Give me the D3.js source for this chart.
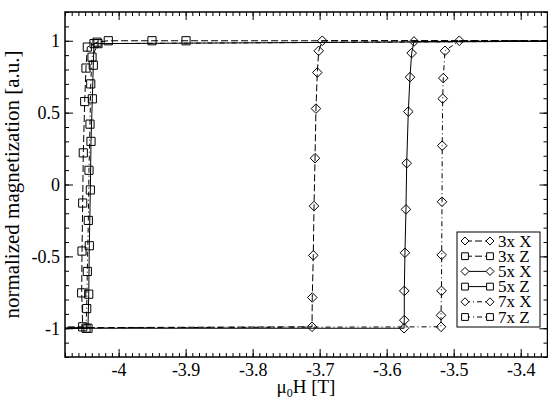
<!DOCTYPE html>
<html><head><meta charset="utf-8">
<script src="https://cdn.jsdelivr.net/npm/d3@7"></script>
<style>body{margin:0;background:#fff}svg{display:block}text{font-family:"Liberation Serif","Times New Roman",serif}</style>
</head><body><svg id="c" width="548" height="398"></svg>
<script>
// ---- data ----
const seriesNames = ["3x X","3x Z","5x X","5x Z","7x X","7x Z"];
const field3X = [-4.3,-3.7114,-3.7110,-3.7095,-3.7084,-3.7069,-3.7055,-3.7035,-3.7014,-3.6961,-3.2];
const mag3X   = [-1,-0.99,-0.786,-0.493,-0.15,0.183,0.528,0.779,0.93,1.0,1];
const field3Z = [-4.3,-4.0536,-4.0551,-4.0546,-4.0536,-4.0527,-4.0506,-4.0487,-4.0467,-4.0322,-4.0154,-3.9502,-3.8994,-3.2];
const mag3Z   = [-1,-0.99,-0.754,-0.463,-0.129,0.22,0.577,0.81,0.956,0.99,1,1,1,1];
const field5X = [-4.3,-3.5741,-3.5737,-3.5737,-3.5727,-3.5712,-3.5701,-3.5677,-3.5652,-3.5627,-3.5592,-3.2];
const mag5X   = [-1,-1,-0.944,-0.74,-0.475,-0.173,0.148,0.507,0.747,0.914,0.995,1];
const field5Z = [-4.3,-4.0457,-4.0446,-4.0437,-4.0422,-4.0412,-4.0392,-4.0378,-4.0367,-3.2];
const mag5Z   = [-1,-1,-0.763,-0.426,-0.038,0.30,0.596,0.83,0.98,1];
const field7X = [-4.3,-3.5189,-3.5189,-3.5182,-3.5179,-3.5174,-3.5171,-3.5164,-3.5155,-3.5130,-3.4916,-3.2];
const mag7X   = [-1,-0.99,-0.91,-0.74,-0.49,-0.12,0.27,0.597,0.74,0.93,1,1];
const field7Z = [-4.3,-4.0487,-4.0476,-4.0467,-4.0452,-4.0442,-4.0427,-4.0416,-4.0397,-4.0308,-3.2];
const mag7Z   = [-1,-1,-0.863,-0.605,-0.25,0.099,0.42,0.70,0.886,0.98,1];
const xTickVals = [-4,-3.9,-3.8,-3.7,-3.6,-3.5,-3.4];
const xTickLabels = ["-4","-3.9","-3.8","-3.7","-3.6","-3.5","-3.4"];
const yTickVals = [-1,-0.5,0,0.5,1];
const yTickLabels = ["-1","-0.5","0","0.5","1"];
const xLabel = "μ0H [T]";
const yLabel = "normalized magnetization [a.u.]";

// ---- build ----
const fields = [field3X, field3Z, field5X, field5Z, field7X, field7Z];
const mags = [mag3X, mag3Z, mag5X, mag5Z, mag7X, mag7Z];
const dashStyles = {"3x":"7,3","5x":null,"7x":"5,3,1,3"};
const L=65,R=547.5,T=12,B=357;
const x = d3.scaleLinear().domain([-4.08,-3.36]).range([L,R]);
const y = d3.scaleLinear().domain([-1.2,1.2]).range([B,T]);
const svg = d3.select("#c");
svg.append("rect").attr("width",548).attr("height",398).attr("fill","#fff");
svg.append("defs").append("clipPath").attr("id","clip").append("rect")
  .attr("x",L).attr("y",T).attr("width",R-L).attr("height",B-T);

function markerPath(type, s){
  if(type==="X") return `M${-s},0L0,${-s}L${s},0L0,${s}Z`;
  return `M${-s*0.85},${-s*0.85}h${s*1.7}v${s*1.7}h${-s*1.7}Z`;
}
const plot = svg.append("g").attr("clip-path","url(#clip)");
const line = d3.line().x(d=>x(d[0])).y(d=>y(d[1]));
seriesNames.forEach((name,i)=>{
  const pts = fields[i].map((f,j)=>[f,mags[i][j]]);
  const size = name.slice(0,2), type = name.slice(-1);
  plot.append("path").attr("d",line(pts)).attr("fill","none").attr("stroke","#000")
    .attr("stroke-width",1).attr("stroke-dasharray",dashStyles[size]);
  plot.selectAll(null).data(pts.filter(p=>p[0]>-4.08&&p[0]<-3.36)).enter().append("path")
    .attr("d",markerPath(type,4.8))
    .attr("transform",d=>`translate(${x(d[0])},${y(d[1])})`)
    .attr("fill","none").attr("stroke","#000").attr("stroke-width",1);
});

// axes
const fs = "18px";
const xMinor = d3.range(-408,-335).map(d=>d/100);
const yMinor = d3.range(-12,13).map(d=>d/10);
function style(g){ g.select(".domain").remove(); g.selectAll("line").attr("stroke","#000").attr("stroke-width",1);
  g.selectAll("text").attr("fill","#000").style("font-size",fs).style("font-family","'Liberation Serif',serif"); }
svg.append("g").attr("transform",`translate(0,${B})`).call(d3.axisBottom(x).tickValues(xMinor).tickSize(-4).tickFormat("")).call(style);
svg.append("g").attr("transform",`translate(0,${T})`).call(d3.axisTop(x).tickValues(xMinor).tickSize(-4).tickFormat("")).call(style);
svg.append("g").attr("transform",`translate(${L},0)`).call(d3.axisLeft(y).tickValues(yMinor).tickSize(-4).tickFormat("")).call(style);
svg.append("g").attr("transform",`translate(${R},0)`).call(d3.axisRight(y).tickValues(yMinor).tickSize(-4).tickFormat("")).call(style);
svg.append("g").attr("transform",`translate(0,${B})`).call(d3.axisBottom(x).tickValues(xTickVals).tickSize(-8).tickPadding(6).tickFormat((d,i)=>xTickLabels[i])).call(style);
svg.append("g").attr("transform",`translate(0,${T})`).call(d3.axisTop(x).tickValues(xTickVals).tickSize(-8).tickFormat("")).call(style);
svg.append("g").attr("transform",`translate(${L},0)`).call(d3.axisLeft(y).tickValues(yTickVals).tickSize(-8).tickPadding(5).tickFormat((d,i)=>yTickLabels[i])).call(style);
svg.append("g").attr("transform",`translate(${R},0)`).call(d3.axisRight(y).tickValues(yTickVals).tickSize(-8).tickFormat("")).call(style);
svg.append("rect").attr("x",L).attr("y",T).attr("width",R-L).attr("height",B-T)
  .attr("fill","none").attr("stroke","#000").attr("stroke-width",1.5);

// axis labels
const xl = svg.append("text").attr("x",306).attr("y",393).attr("text-anchor","middle").style("font-size","19px");
xl.append("tspan").text(xLabel.slice(0,1));
xl.append("tspan").attr("dy",4).style("font-size","12px").text(xLabel.slice(1,2));
xl.append("tspan").attr("dy",-4).text(xLabel.slice(2));
svg.append("text").attr("transform","rotate(-90)").attr("x",-(T+B)/2).attr("y",19)
  .attr("text-anchor","middle").style("font-size","21px").text(yLabel);

// legend
const lg = svg.append("g");
const rowH = 15.2, lgTop = 232;
lg.append("rect").attr("x",457).attr("y",lgTop).attr("width",83).attr("height",95)
  .attr("fill","#fff").attr("stroke","#000").attr("stroke-width",1);
seriesNames.forEach((name,i)=>{
  const cy = lgTop+9+i*rowH;
  const size = name.slice(0,2), type = name.slice(-1);
  lg.append("line").attr("x1",465).attr("x2",490).attr("y1",cy).attr("y2",cy)
    .attr("stroke","#000").attr("stroke-width",1).attr("stroke-dasharray",dashStyles[size]);
  [465,490].forEach(mx=>lg.append("path").attr("d",markerPath(type,4)).attr("transform",`translate(${mx},${cy})`)
    .attr("fill","#fff").attr("stroke","#000").attr("stroke-width",1));
  lg.append("text").attr("x",498).attr("y",cy+5.5).style("font-size","17px").text(name);
});
</script></body></html>
